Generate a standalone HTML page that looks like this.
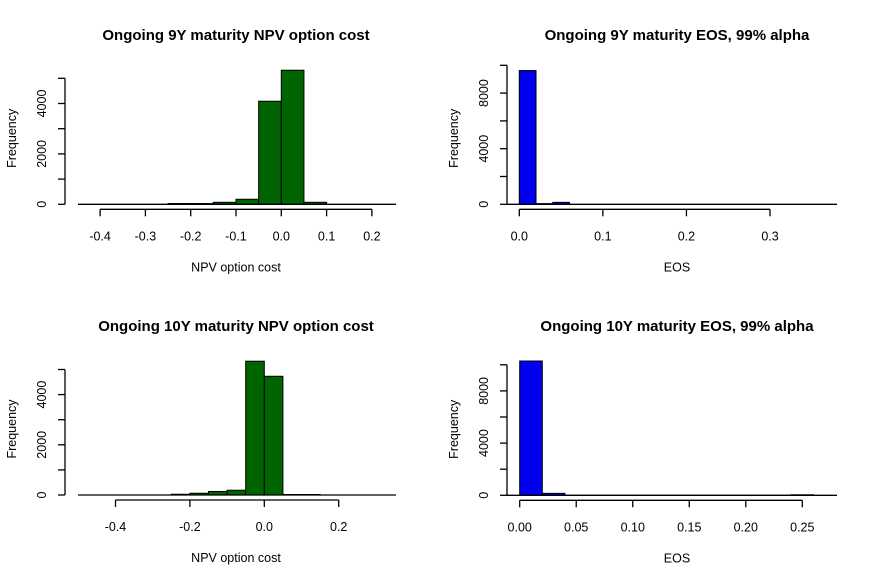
<!DOCTYPE html>
<html><head><meta charset="utf-8"><style>
html,body{margin:0;padding:0;background:#fff;}
svg{display:block;font-family:"Liberation Sans",Arial,sans-serif;}
</style></head><body>
<svg id="c" width="883" height="582" viewBox="0 0 883 582"></svg>
<script>
// Panel 1: 9Y NPV option cost
const p1Breaks = [-0.25,-0.2,-0.15,-0.1,-0.05,0,0.05,0.1];
const p1Counts = [30,30,80,200,4090,5320,80];
const p1XTicks = [-0.4,-0.3,-0.2,-0.1,0.0,0.1,0.2];
const p1XLabels = ["-0.4","-0.3","-0.2","-0.1","0.0","0.1","0.2"];
const p1YTicks = [0,1000,2000,3000,4000,5000];
const p1YLabels = ["0","","2000","","4000",""];
// Panel 2: 9Y EOS
const p2Breaks = [0,0.02,0.04,0.06];
const p2Counts = [9620,50,140];
const p2XTicks = [0,0.1,0.2,0.3];
const p2XLabels = ["0.0","0.1","0.2","0.3"];
const p2YTicks = [0,2000,4000,6000,8000,10000];
const p2YLabels = ["0","","4000","","8000",""];
// Panel 3: 10Y NPV option cost
const p3Breaks = [-0.25,-0.2,-0.15,-0.1,-0.05,0,0.05,0.1,0.15];
const p3Counts = [30,70,140,190,5330,4730,20,20];
const p3XTicks = [-0.4,-0.2,0.0,0.2];
const p3XLabels = ["-0.4","-0.2","0.0","0.2"];
const p3YTicks = [0,1000,2000,3000,4000,5000];
const p3YLabels = ["0","","2000","","4000",""];
// Panel 4: 10Y EOS
const p4Breaks = [0,0.02,0.04,0.06,0.08,0.1,0.12,0.14,0.16,0.18,0.2,0.22,0.24,0.26];
const p4Counts = [10290,150,3,2,2,1,1,1,1,1,1,1,40];
const p4XTicks = [0,0.05,0.1,0.15,0.2,0.25];
const p4XLabels = ["0.00","0.05","0.10","0.15","0.20","0.25"];
const p4YTicks = [0,2000,4000,6000,8000,10000];
const p4YLabels = ["0","","4000","","8000",""];

const NS="http://www.w3.org/2000/svg";
const svg=document.getElementById('c');
function mk(tag,attrs,parent){const e=document.createElementNS(NS,tag);for(const k in attrs)e.setAttribute(k,attrs[k]);(parent||svg).appendChild(e);return e;}

function panel(o){
  const g=mk('g',{});
  
  
  const sx=v=>o.x0px+(v-o.x0v)*o.xs;
  const sy=v=>o.base-v*o.ys;
  const t=mk('text',{x:o.cx,y:o.ty,'text-anchor':'middle','font-size':'15','font-weight':'bold',fill:'#000'},g);
  t.textContent=o.title;
  
  
  for(let i=0;i<o.counts.length;i++){
    const x1=sx(o.breaks[i]),x2=sx(o.breaks[i+1]),y=sy(o.counts[i]);
    const r=mk('rect',{x:x1,y:y,width:x2-x1,height:o.base-y,fill:o.color,stroke:'#000','stroke-width':'1'},g);
    
    
  }
  const bl=mk('line',{x1:o.lineL,x2:o.lineR,y1:o.base,y2:o.base,stroke:'#000','stroke-width':'1.3'},g);
  
  
  const xa=mk('g',{},g);
  
  
  const xt=o.base+5;
  mk('line',{x1:sx(o.xTicks[0]),x2:sx(o.xTicks[o.xTicks.length-1]),y1:xt,y2:xt,stroke:'#000','stroke-width':'1.3'},xa);
  o.xTicks.forEach((v,i)=>{
    mk('line',{x1:sx(v),x2:sx(v),y1:xt,y2:xt+7,stroke:'#000','stroke-width':'1.3'},xa);
    const l=mk('text',{x:sx(v),y:xt+31,'text-anchor':'middle','font-size':'12.5',fill:'#000'},xa);
    l.textContent=o.xLabels[i];
    
    
  });
  const xl=mk('text',{x:o.cx,y:o.base+67,'text-anchor':'middle','font-size':'12.5',fill:'#000'},g);
  xl.textContent=o.xlab;
  
  
  const ya=mk('g',{},g);
  
  
  const ax=o.yAxisX;
  mk('line',{x1:ax,x2:ax,y1:sy(o.yTicks[0]),y2:sy(o.yTicks[o.yTicks.length-1]),stroke:'#000','stroke-width':'1.3'},ya);
  o.yTicks.forEach((v,i)=>{
    mk('line',{x1:ax-7,x2:ax,y1:sy(v),y2:sy(v),stroke:'#000','stroke-width':'1.3'},ya);
    if(o.yLabels[i]){
      const l=mk('text',{x:0,y:0,'text-anchor':'middle','font-size':'12.5',fill:'#000',transform:`translate(${ax-19},${sy(v)}) rotate(-90)`},ya);
      l.textContent=o.yLabels[i];
      
      
    }
  });
  const yl=mk('text',{x:0,y:0,'text-anchor':'middle','font-size':'12.5',fill:'#000',transform:`translate(${ax-49},${o.base-66}) rotate(-90)`},g);
  yl.textContent='Frequency';
  
  
}

panel({name:'panel-9y-npv',title:'Ongoing 9Y maturity NPV option cost',xlab:'NPV option cost',color:'#006400',
  breaks:p1Breaks,counts:p1Counts,xTicks:p1XTicks,xLabels:p1XLabels,yTicks:p1YTicks,yLabels:p1YLabels,
  x0v:0,x0px:281.3,xs:453,base:204.3,ys:0.0252,cx:236,ty:40,lineL:78,lineR:396,yAxisX:65});
panel({name:'panel-9y-eos',title:'Ongoing 9Y maturity EOS, 99% alpha',xlab:'EOS',color:'#0000ee',
  breaks:p2Breaks,counts:p2Counts,xTicks:p2XTicks,xLabels:p2XLabels,yTicks:p2YTicks,yLabels:p2YLabels,
  x0v:0,x0px:519.3,xs:835.7,base:204.3,ys:0.0139,cx:677,ty:40,lineL:507,lineR:837,yAxisX:507});
panel({name:'panel-10y-npv',title:'Ongoing 10Y maturity NPV option cost',xlab:'NPV option cost',color:'#006400',
  breaks:p3Breaks,counts:p3Counts,xTicks:p3XTicks,xLabels:p3XLabels,yTicks:p3YTicks,yLabels:p3YLabels,
  x0v:0,x0px:264.3,xs:372,base:495,ys:0.0251,cx:236,ty:331,lineL:78,lineR:396,yAxisX:65});
panel({name:'panel-10y-eos',title:'Ongoing 10Y maturity EOS, 99% alpha',xlab:'EOS',color:'#0000ee',
  breaks:p4Breaks,counts:p4Counts,xTicks:p4XTicks,xLabels:p4XLabels,yTicks:p4YTicks,yLabels:p4YLabels,
  x0v:0,x0px:519.7,xs:1130.4,base:495.3,ys:0.01305,cx:677,ty:331,lineL:507,lineR:837,yAxisX:507});
</script>
</body></html>
